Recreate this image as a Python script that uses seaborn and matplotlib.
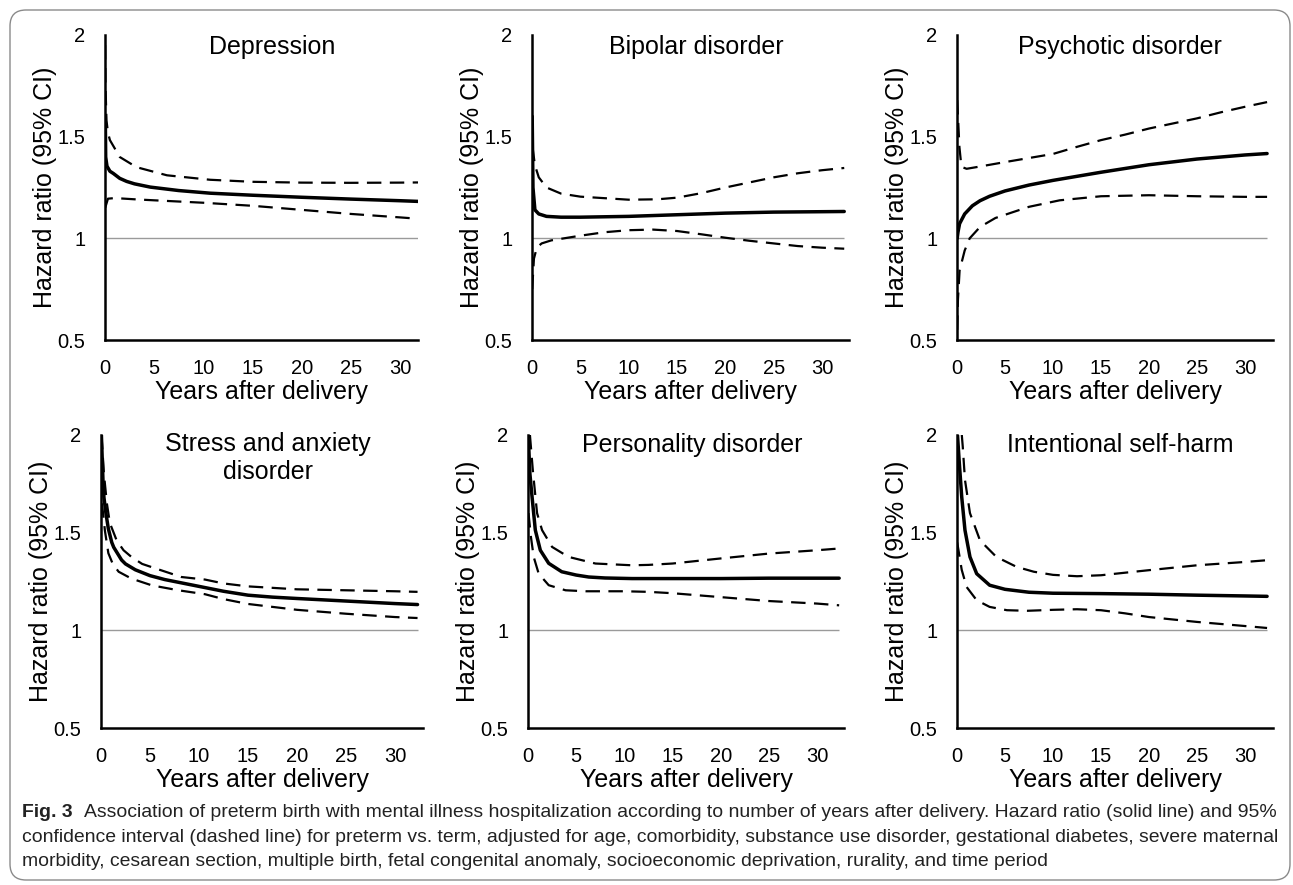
import matplotlib
matplotlib.use("Agg")
import matplotlib.pyplot as plt
import matplotlib.transforms as mtransforms
from matplotlib.patches import FancyBboxPatch
import seaborn as sns

# ---------------- data ----------------
titles = ["Depression", "Bipolar disorder", "Psychotic disorder",
          "Stress and anxiety\ndisorder", "Personality disorder", "Intentional self-harm"]
y_ticks = [0.5, 1, 1.5, 2]
y_tick_labels = ["0.5", "1", "1.5", "2"]
x_ticks = [0, 5, 10, 15, 20, 25, 30]

# Depression
dep_hr_x = [0.03, 0.07, 0.2, 0.5, 0.85, 1.5, 2.2, 3, 4.6, 7.5, 10.7, 15, 20, 25, 30, 32.2]
dep_hr = [1.60, 1.40, 1.355, 1.33, 1.319, 1.295, 1.28, 1.268, 1.252, 1.235, 1.222, 1.212, 1.202, 1.193, 1.185, 1.181]
dep_hi_x = [0.01, 0.05, 0.15, 0.3, 0.5, 1.5, 3.2, 6.3, 10.7, 15, 20, 25, 30, 32.2]
dep_hi = [1.95, 1.75, 1.58, 1.52, 1.483, 1.40, 1.35, 1.31, 1.288, 1.278, 1.274, 1.273, 1.274, 1.275]
dep_lo_x = [0.02, 0.3, 1, 3, 5, 10, 15, 20, 25, 30, 32.2]
dep_lo = [1.15, 1.195, 1.198, 1.192, 1.187, 1.175, 1.16, 1.14, 1.12, 1.103, 1.095]

# Bipolar disorder
bip_hr_x = [0.02, 0.1, 0.3, 0.7, 1.5, 3, 5, 10, 15, 20, 25, 30, 32.3]
bip_hr = [1.60, 1.25, 1.14, 1.12, 1.108, 1.104, 1.104, 1.108, 1.116, 1.124, 1.129, 1.131, 1.132]
bip_hi_x = [0.05, 0.3, 0.7, 1.5, 3, 5, 10, 13, 15, 17.5, 20, 22.5, 25, 27.5, 30, 32.3]
bip_hi = [1.45, 1.36, 1.30, 1.25, 1.22, 1.205, 1.19, 1.192, 1.20, 1.222, 1.25, 1.275, 1.30, 1.32, 1.335, 1.346]
bip_lo_x = [0.02, 0.2, 0.5, 1, 2, 5, 7.5, 10, 12.5, 15, 17.5, 20, 22.5, 25, 27.5, 30, 32.3]
bip_lo = [0.75, 0.90, 0.955, 0.975, 0.99, 1.013, 1.03, 1.04, 1.043, 1.036, 1.02, 1.003, 0.988, 0.975, 0.962, 0.954, 0.949]

# Psychotic disorder
psy_hr_x = [0.02, 0.1, 0.27, 0.8, 1.6, 2.4, 3.4, 5, 7.5, 10, 12.5, 15, 20, 25, 30, 32.3]
psy_hr = [1.0, 1.03, 1.072, 1.12, 1.16, 1.185, 1.207, 1.233, 1.262, 1.285, 1.305, 1.325, 1.362, 1.39, 1.41, 1.417]
psy_hi_x = [0.02, 0.1, 0.25, 0.4, 0.55, 1, 2, 5, 7.5, 10, 12.5, 15, 17.5, 20, 22.5, 25, 27.5, 30, 32.3]
psy_hi = [1.68, 1.60, 1.45, 1.38, 1.35, 1.342, 1.35, 1.375, 1.395, 1.415, 1.45, 1.483, 1.51, 1.54, 1.565, 1.59, 1.62, 1.647, 1.67]
psy_lo_x = [0.02, 0.1, 0.27, 0.8, 1.32, 2.4, 4, 5.9, 7.5, 10.7, 15, 20, 25, 30, 32.3]
psy_lo = [0.55, 0.70, 0.842, 0.94, 1.0, 1.056, 1.10, 1.13, 1.155, 1.187, 1.207, 1.212, 1.207, 1.204, 1.204]

# Stress and anxiety disorder
str_hr_x = [0.04, 0.2, 0.3, 0.5, 0.75, 1.1, 1.3, 2.1, 2.5, 3.5, 5, 6.5, 8, 10, 12.5, 15, 17.5, 20, 25, 30, 32.3]
str_hr = [2.0, 1.77, 1.68, 1.60, 1.52, 1.45, 1.425, 1.36, 1.34, 1.31, 1.28, 1.26, 1.245, 1.225, 1.20, 1.18, 1.17, 1.163, 1.15, 1.137, 1.132]
str_hi_x = [0.05, 0.3, 0.6, 0.9, 1.6, 2.3, 3.1, 4.2, 5.5, 8.2, 10.6, 12.5, 15, 20, 25, 30, 32.3]
str_hi = [2.0, 1.80, 1.65, 1.55, 1.46, 1.41, 1.376, 1.34, 1.318, 1.273, 1.26, 1.24, 1.225, 1.21, 1.205, 1.20, 1.197]
str_lo_x = [0.1, 0.4, 0.75, 1.2, 1.8, 3.1, 5.2, 7.9, 10.6, 12.5, 15, 20, 25, 30, 32.3]
str_lo = [1.65, 1.51, 1.395, 1.34, 1.30, 1.265, 1.23, 1.205, 1.185, 1.16, 1.135, 1.105, 1.085, 1.068, 1.063]

# Personality disorder
per_hr_x = [0.05, 0.2, 0.42, 0.76, 1.28, 2.15, 3.5, 5, 6.3, 8, 10.8, 15, 20, 25, 30, 32.3]
per_hr = [1.97, 1.80, 1.684, 1.513, 1.41, 1.343, 1.30, 1.283, 1.273, 1.268, 1.265, 1.265, 1.265, 1.267, 1.267, 1.267]
per_hi_x = [0.2, 0.5, 0.94, 1.46, 2.5, 4.2, 7, 10.8, 12.5, 15, 17.5, 20, 25, 30, 32.3]
per_hi = [2.0, 1.82, 1.60, 1.513, 1.427, 1.376, 1.342, 1.333, 1.335, 1.342, 1.355, 1.368, 1.393, 1.41, 1.419]
per_lo_x = [0.05, 0.3, 0.59, 1.11, 2.15, 3.9, 6, 10, 12.5, 15, 20, 25, 30, 32.3]
per_lo = [1.60, 1.48, 1.376, 1.29, 1.231, 1.205, 1.20, 1.20, 1.197, 1.19, 1.17, 1.15, 1.137, 1.128]

# Intentional self-harm
sel_hr_x = [0.05, 0.25, 0.49, 0.83, 1.35, 2.05, 3.4, 5, 7.5, 10, 15, 20, 25, 30, 32.3]
sel_hr = [2.0, 1.85, 1.684, 1.513, 1.376, 1.29, 1.231, 1.21, 1.195, 1.19, 1.188, 1.185, 1.18, 1.176, 1.174]
sel_hi_x = [0.5, 0.6, 0.83, 1.35, 2.4, 4.1, 6.2, 8, 10, 12.5, 15, 17.5, 20, 25, 30, 32.3]
sel_hi = [2.0, 1.94, 1.77, 1.60, 1.46, 1.376, 1.325, 1.30, 1.284, 1.277, 1.282, 1.295, 1.308, 1.333, 1.35, 1.359]
sel_lo_x = [0.02, 0.49, 1.0, 2.05, 3.4, 5.2, 7.3, 10, 12.5, 15, 17.5, 20, 25, 30, 32.3]
sel_lo = [1.45, 1.31, 1.222, 1.154, 1.12, 1.103, 1.10, 1.105, 1.108, 1.103, 1.087, 1.068, 1.043, 1.022, 1.012]

caption_bold = "Fig. 3"
caption_lines = [
    "Association of preterm birth with mental illness hospitalization according to number of years after delivery. Hazard ratio (solid line) and 95%",
    "confidence interval (dashed line) for preterm vs. term, adjusted for age, comorbidity, substance use disorder, gestational diabetes, severe maternal",
    "morbidity, cesarean section, multiple birth, fetal congenital anomaly, socioeconomic deprivation, rurality, and time period",
]

panels = [
    (dep_hr_x, dep_hr, dep_lo_x, dep_lo, dep_hi_x, dep_hi),
    (bip_hr_x, bip_hr, bip_lo_x, bip_lo, bip_hi_x, bip_hi),
    (psy_hr_x, psy_hr, psy_lo_x, psy_lo, psy_hi_x, psy_hi),
    (str_hr_x, str_hr, str_lo_x, str_lo, str_hi_x, str_hi),
    (per_hr_x, per_hr, per_lo_x, per_lo, per_hi_x, per_hi),
    (sel_hr_x, sel_hr, sel_lo_x, sel_lo, sel_hi_x, sel_hi),
]

# ---------------- layout ----------------
W, H = 1293, 885
# (pixel of x=0, pixel of x=30, axis right end, top, bottom, title baseline offset)
axes_px = [
    (105, 400, 418, 35, 340, 19),
    (532, 822, 849, 35, 340, 19),
    (957, 1245, 1273, 35, 340, 19),
    (101, 395, 423, 435, 728, 16),
    (528, 817, 844, 435, 728, 17),
    (957, 1245, 1273, 435, 728, 17),
]

sns.set_style("white")
plt.rcParams["font.family"] = ["Liberation Sans", "DejaVu Sans"]

fig = plt.figure(figsize=(W / 100, H / 100), dpi=100)
fig.patch.set_facecolor("white")

dash = (0, (6.5, 3.8))
for i, (px0, px30, pend, ptop, pbot, tb_off) in enumerate(axes_px):
    hr_x, hr, lo_x, lo, hi_x, hi = panels[i]
    hpx = pbot - ptop
    ax = fig.add_axes([px0 / W, 1 - pbot / H, (pend - px0) / W, hpx / H])
    xmax = 30 * (pend - px0) / (px30 - px0)
    x_end = max(hr_x)

    ax.hlines(1, 0, x_end, color="#9a9a9a", lw=1.0, zorder=1)
    sns.lineplot(x=lo_x, y=lo, ax=ax, color="black", lw=1.6, linestyle=dash, zorder=3)
    sns.lineplot(x=hi_x, y=hi, ax=ax, color="black", lw=1.6, linestyle=dash, zorder=3)
    sns.lineplot(x=hr_x, y=hr, ax=ax, color="black", lw=2.5, zorder=4)

    ax.set_xlim(0, xmax)
    ax.set_ylim(0.5, 2)
    ax.set_xticks(x_ticks)
    ax.set_xticklabels([str(t) for t in x_ticks])
    ax.set_yticks(y_ticks)
    ax.set_yticklabels(y_tick_labels)
    for s in ["top", "right"]:
        ax.spines[s].set_visible(False)
    for s in ["left", "bottom"]:
        ax.spines[s].set_linewidth(1.8)
        ax.spines[s].set_color("black")
        ax.spines[s].set_zorder(5)
    ax.tick_params(axis="both", direction="out", length=5, width=1.8,
                   color="black", labelsize=14.5, pad=9, labelcolor="black")
    ax.set_xlabel("Years after delivery", fontsize=18, labelpad=1, color="black")
    ax.set_ylabel("Hazard ratio (95% CI)", fontsize=18, color="black")
    ax.yaxis.set_label_coords(-48 / (pend - px0), 0.5)
    trans = mtransforms.blended_transform_factory(ax.transData, ax.transAxes)
    for k, line in enumerate(titles[i].split("\n")):
        ax.text(17, 1 - (tb_off + 28 * k) / hpx, line, transform=trans,
                ha="center", va="baseline", fontsize=18, color="black")
    ax.set_facecolor("none")

# ---------------- caption ----------------
cap_family = ["Liberation Sans", "DejaVu Sans"]
fig.canvas.draw()
r = fig.canvas.get_renderer()
probe_b = fig.text(0, 0, caption_bold + "  ", fontweight="bold", family=cap_family, fontsize=10)
probe_r = fig.text(0, 0, caption_lines[0], family=cap_family, fontsize=10)
wb = probe_b.get_window_extent(r).width
wr = probe_r.get_window_extent(r).width
probe_b.remove()
probe_r.remove()
target = 1283 - 22
cs = 10 * target / (wb + wr)

line_base = [817, 842, 866]
fig.text(22 / W, 1 - line_base[0] / H, caption_bold, fontweight="bold",
         family=cap_family, fontsize=cs, va="baseline", ha="left", color="#222222")
fig.text(22 / W + (wb * cs / 10) / W, 1 - line_base[0] / H, caption_lines[0],
         family=cap_family, fontsize=cs, va="baseline", ha="left", color="#222222")
for k in (1, 2):
    fig.text(22 / W, 1 - line_base[k] / H, caption_lines[k], family=cap_family,
             fontsize=cs, va="baseline", ha="left", color="#222222")

# ---------------- frame ----------------
frame = FancyBboxPatch((10, 5), 1280, 870,
                       boxstyle="round,pad=0,rounding_size=16",
                       transform=mtransforms.IdentityTransform(),
                       fill=False, edgecolor="#8a8a8a", lw=1.0)
fig.patches.append(frame)

fig.savefig("out.png", dpi=100, facecolor="white")
